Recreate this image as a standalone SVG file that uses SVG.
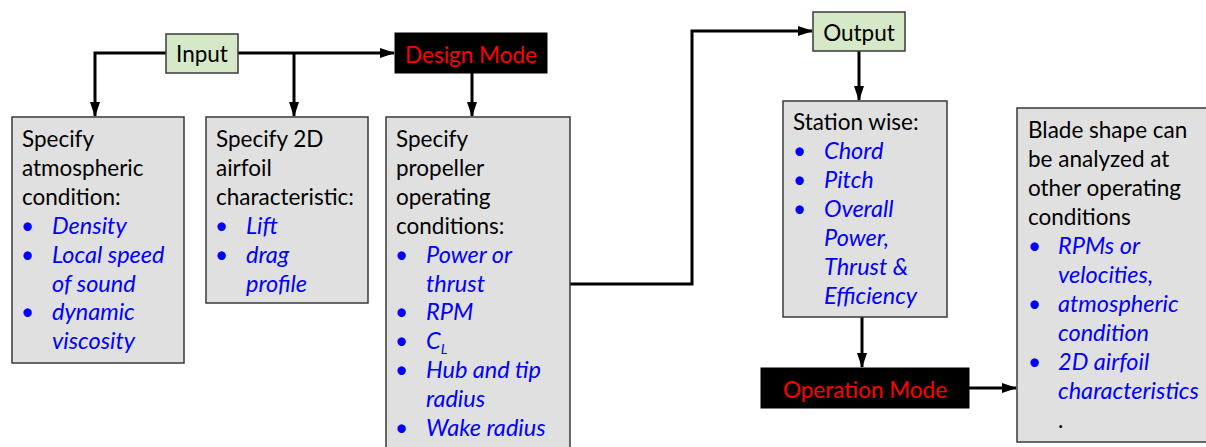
<svg xmlns="http://www.w3.org/2000/svg" width="1206" height="447" viewBox="0 0 1206 447">
<style>
.box{fill:#e0e0e0;stroke:#3a3a3a;stroke-width:1.5}
.green{fill:#d5e8c8;stroke:#3a3a3a;stroke-width:1.5}
.mode{fill:#000;stroke:#000;stroke-width:1}
text{font-family:Lato,"Liberation Sans",sans-serif;font-size:22.5px;fill:#000}
.it{font-style:italic;fill:#0000ff;font-size:23.5px}
.bul{fill:#0000ff}
.red{fill:#ff0000}
.mid{text-anchor:middle}
.conn{fill:none;stroke:#000;stroke-width:3}
</style>
<defs>
<marker id="arr" markerUnits="userSpaceOnUse" markerWidth="15" markerHeight="10" viewBox="0 0 15 10" refX="14" refY="5" orient="auto">
<path d="M0,0 L15,5 L0,10 z" fill="#000"/>
</marker>
</defs>
<g id="connectors">
<path class="conn" d="M166,53 H95 V116" marker-end="url(#arr)"/>
<path class="conn" d="M238,53 H394" marker-end="url(#arr)"/>
<path class="conn" d="M294,53 V116" marker-end="url(#arr)"/>
<path class="conn" d="M472,73 V116" marker-end="url(#arr)"/>
<path class="conn" d="M570,284 H692 V31 H812" marker-end="url(#arr)"/>
<path class="conn" d="M859,51 V100" marker-end="url(#arr)"/>
<path class="conn" d="M862,317 V367" marker-end="url(#arr)"/>
<path class="conn" d="M969,388 H1016" marker-end="url(#arr)"/>
</g>
<g id="input">
<rect class="green" x="166" y="34" width="72" height="39"/>
<text class="mid" x="202" y="62">Input</text>
</g>
<g id="design-mode">
<rect class="mode" x="395" y="33" width="152" height="40"/>
<text class="mid red" x="471" y="63">Design Mode</text>
</g>
<g id="output">
<rect class="green" x="813" y="12" width="92" height="39"/>
<text class="mid" x="859" y="41">Output</text>
</g>
<g id="operation-mode">
<rect class="mode" x="761" y="368" width="208" height="40"/>
<text class="mid red" x="865" y="398">Operation Mode</text>
</g>
<g id="atmospheric">
<rect class="box" x="12" y="117" width="172" height="246"/>
<text x="22" y="147">Specify</text>
<text x="22" y="176">atmospheric</text>
<text x="22" y="205">condition:</text>
<text class="bul" x="21" y="234">•</text><text class="it" x="52" y="234">Density</text>
<text class="bul" x="21" y="263">•</text><text class="it" x="52" y="263">Local speed</text>
<text class="it" x="52" y="292">of sound</text>
<text class="bul" x="21" y="320">•</text><text class="it" x="52" y="320">dynamic</text>
<text class="it" x="52" y="349">viscosity</text>
</g>
<g id="airfoil">
<rect class="box" x="206" y="117" width="162" height="186"/>
<text x="216" y="147">Specify 2D</text>
<text x="216" y="176">airfoil</text>
<text x="216" y="205">characteristic:</text>
<text class="bul" x="215" y="234">•</text><text class="it" x="246" y="234">Lift</text>
<text class="bul" x="215" y="263">•</text><text class="it" x="246" y="263">drag</text>
<text class="it" x="246" y="292">profile</text>
</g>
<g id="propeller">
<rect class="box" x="386" y="117" width="184" height="340"/>
<text x="396" y="147">Specify</text>
<text x="396" y="176">propeller</text>
<text x="396" y="205">operating</text>
<text x="396" y="234">conditions:</text>
<text class="bul" x="395" y="263">•</text><text class="it" x="426" y="263">Power or</text>
<text class="it" x="426" y="292">thrust</text>
<text class="bul" x="395" y="320">•</text><text class="it" x="426" y="320">RPM</text>
<text class="bul" x="395" y="349">•</text><text class="it" x="426" y="349">C<tspan font-size="14" dy="5">L</tspan></text>
<text class="bul" x="395" y="378">•</text><text class="it" x="426" y="378">Hub and tip</text>
<text class="it" x="426" y="407">radius</text>
<text class="bul" x="395" y="436">•</text><text class="it" x="426" y="436">Wake radius</text>
</g>
<g id="station">
<rect class="box" x="783" y="101" width="164" height="216"/>
<text x="793" y="130">Station wise:</text>
<text class="bul" x="793" y="159">•</text><text class="it" x="824" y="159">Chord</text>
<text class="bul" x="793" y="188">•</text><text class="it" x="824" y="188">Pitch</text>
<text class="bul" x="793" y="217">•</text><text class="it" x="824" y="217">Overall</text>
<text class="it" x="824" y="246">Power,</text>
<text class="it" x="824" y="275">Thrust &amp;</text>
<text class="it" x="824" y="304">Efficiency</text>
</g>
<g id="blade">
<rect class="box" x="1017" y="108" width="200" height="334"/>
<text x="1028" y="138">Blade shape can</text>
<text x="1028" y="167">be analyzed at</text>
<text x="1028" y="196">other operating</text>
<text x="1028" y="225">conditions</text>
<text class="bul" x="1028" y="254">•</text><text class="it" x="1058" y="254">RPMs or</text>
<text class="it" x="1058" y="283">velocities,</text>
<text class="bul" x="1028" y="312">•</text><text class="it" x="1058" y="312">atmospheric</text>
<text class="it" x="1058" y="341">condition</text>
<text class="bul" x="1028" y="370">•</text><text class="it" x="1058" y="370">2D airfoil</text>
<text class="it" x="1058" y="399">characteristics</text>
<text x="1058" y="428">.</text>
</g>
</svg>
